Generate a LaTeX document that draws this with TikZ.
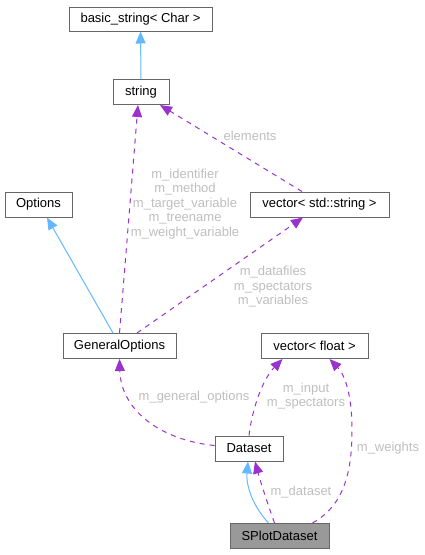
\documentclass[tikz,border=0pt]{standalone}
\usepackage{fontspec}
\setmainfont{Liberation Sans}
\usetikzlibrary{arrows.meta}
\definecolor{inhc}{HTML}{63B8FF}
\definecolor{usec}{HTML}{9A32CD}
\definecolor{lblc}{RGB}{190,190,190}
\definecolor{bordc}{HTML}{666666}
\definecolor{curc}{HTML}{999999}
\begin{document}
\begin{tikzpicture}[x=1pt,y=-1pt,
  box/.style={draw=bordc, line width=1pt, fill=white, inner sep=0pt, font=\fontsize{13}{15}\selectfont, minimum height=25pt},
  inh/.style={draw=inhc, line width=1pt, -{Triangle[length=12pt,width=10pt]}},
  use/.style={draw=usec, line width=1pt, dash pattern=on 5pt off 5pt, -{Triangle[length=12pt,width=10pt]}},
  lbl/.style={text=lblc, inner sep=0pt, align=center, font=\fontsize{13}{14.5}\selectfont}]
\useasboundingbox (0,0) rectangle (425,555);
\node[box, minimum width=143pt, minimum height=24pt] (basic) at (140.5,19) {basic\_string< Char >};
\node[box, minimum width=56pt] (string) at (141,92) {string};
\node[box, minimum width=67pt] (options) at (38.5,204.5) {Options};
\node[box, minimum width=139pt] (vecstr) at (319.5,204.5) {vector< std::string >};
\node[box, minimum width=113pt] (genopt) at (119.5,346) {GeneralOptions};
\node[box, minimum width=107pt] (vecf) at (314.5,346) {vector< float >};
\node[box, minimum width=68pt] (dataset) at (249,448.5) {Dataset};
\node[box, minimum width=99pt, fill=curc] (splot) at (279.5,536) {SPlotDataset};

\draw[inh] (string.north) -- (basic.south);
\draw[inh] ([xshift=-6.5pt]genopt.north) -- ([xshift=8.5pt]options.south);
\draw[use] (genopt.north) -- ([xshift=-3pt]string.south);
\draw[use] ([xshift=-17.5pt]vecstr.north) -- ([xshift=19pt]string.south);
\draw[use] ([xshift=17.5pt]genopt.north) -- ([xshift=-16.5pt]vecstr.south);
\draw[use] ([yshift=3pt]dataset.west) .. controls (160,440) and (121,410) .. (genopt.south);
\draw[use] (dataset.north) .. controls (252,410) and (262,380) .. ([xshift=-32pt]vecf.south);
\draw[use] ([xshift=33pt]splot.north) .. controls (345,505) and (352,470) .. (352,430) .. controls (352,395) and (345,375) .. ([xshift=15pt]vecf.south);
\draw[inh] ([xshift=-11pt]splot.north) .. controls (252,505) and (246,485) .. ([xshift=-1pt]dataset.south);
\draw[use] ([xshift=-5pt]splot.north) .. controls (268,505) and (260,480) .. ([xshift=6pt]dataset.south);

\node[lbl] (l1) at (250,136) {elements};
\node[lbl] (l2) at (185,204) {m\_identifier\\m\_method\\m\_target\_variable\\m\_treename\\m\_weight\_variable};
\node[lbl] (l3) at (273,287) {m\_datafiles\\m\_spectators\\m\_variables};
\node[lbl] (l4) at (194,397) {m\_general\_options};
\node[lbl] (l5) at (306,396) {m\_input\\m\_spectators};
\node[lbl] (l6) at (388,448) {m\_weights};
\node[lbl] (l7) at (301,492) {m\_dataset};
\end{tikzpicture}
\end{document}
